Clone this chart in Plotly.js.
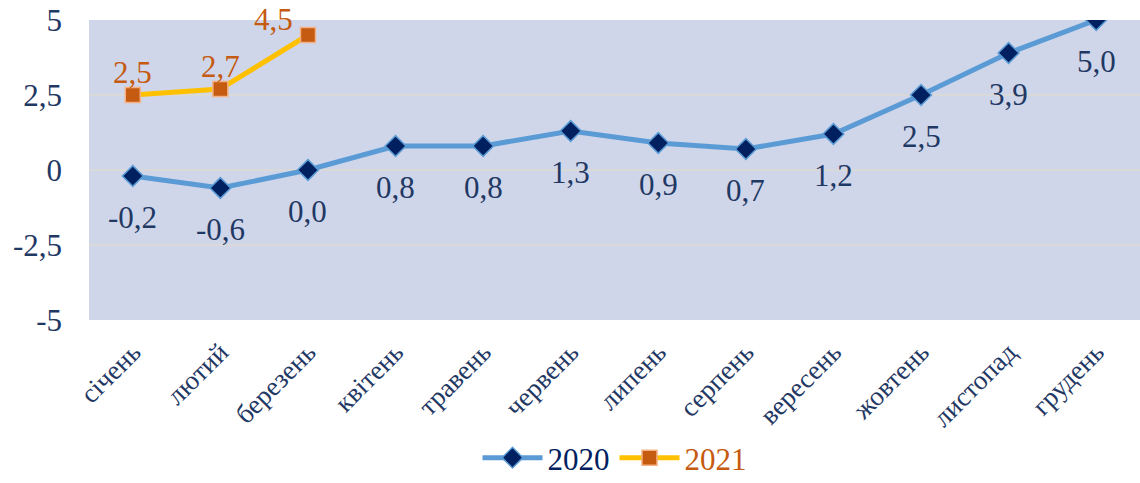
<!DOCTYPE html>
<html><head><meta charset="utf-8">
<script src="https://cdn.plot.ly/plotly-3.0.1.min.js"></script>
<style>html,body{margin:0;padding:0;background:#fff}#c{width:1140px;height:483px}</style>
</head><body><div id="c"></div>
<script>
const months = ["січень","лютий","березень","квітень","травень","червень","липень","серпень","вересень","жовтень","листопад","грудень"];
const v2020 = [-0.2,-0.6,0.0,0.8,0.8,1.3,0.9,0.7,1.2,2.5,3.9,5.0];
const v2021 = [2.5,2.7,4.5];
const months2021 = months.slice(0,3);
const yTickVals = [-5,-2.5,0,2.5,5];
const yTickText = ["-5","-2,5","0","2,5","5"];

const fmt = v => v.toFixed(1).replace('.', ',');
const font = "'Times New Roman', 'Liberation Serif', Times, serif";

const traces = [
  {x: months, y: v2020, name: "2020", type: "scatter", mode: "lines+markers",
   line: {color: "#5b9bd5", width: 5},
   marker: {symbol: "diamond", size: 16, color: "#002060", line: {color: "#5b9bd5", width: 1.5}}},
  {x: months2021, y: v2021, name: "2021", type: "scatter", mode: "lines+markers",
   line: {color: "#ffc000", width: 5},
   marker: {symbol: "square", size: 15, color: "#c55a11", line: {color: "#f4b183", width: 1.5}}}
];

const ann = [];
months.forEach((m, i) => ann.push({x: m, y: v2020[i], text: fmt(v2020[i]), showarrow: false,
  yshift: -41, font: {family: font, size: 31, color: "#1f3864"}}));
months2021.forEach((m, i) => ann.push({x: m, y: v2021[i], text: fmt(v2021[i]), showarrow: false,
  yshift: i === 2 ? 16 : 23, xshift: i === 2 ? -34 : 0, font: {family: font, size: 31, color: "#c55a11"}}));

const layout = {
  width: 1140, height: 483,
  margin: {l: 89, r: 0, t: 20, b: 163, autoexpand: false},
  paper_bgcolor: "#ffffff", plot_bgcolor: "#cfd6ea",
  font: {family: font, color: "#1f3864"},
  showlegend: true,
  legend: {orientation: "h", x: 0.5, xanchor: "center", y: -0.37, yanchor: "top",
    font: {family: font, size: 31}, itemwidth: 60},
  xaxis: {type: "category", range: [-0.5, 11.5], tickangle: -45, showgrid: false,
    tickfont: {family: font, size: 27, color: "#1f3864"}, ticks: "", zeroline: false,
    showline: false, fixedrange: true, automargin: false, ticklabelstandoff: 10},
  yaxis: {range: [-5, 5], tickvals: yTickVals, ticktext: yTickText, showgrid: true,
    gridcolor: "#d9d9d9", gridwidth: 1.5, zeroline: false, ticks: "", ticklabelstandoff: 26,
    tickfont: {family: font, size: 31, color: "#1f3864"}, showline: false, automargin: false},
  annotations: ann
};
Plotly.newPlot("c", traces, layout, {displayModeBar: false, staticPlot: true}).then(() => {
  const texts = document.querySelectorAll('.legendtext');
  if (texts[0]) texts[0].style.fill = "#002060";
  if (texts[1]) texts[1].style.fill = "#c55a11";
});
</script></body></html>
